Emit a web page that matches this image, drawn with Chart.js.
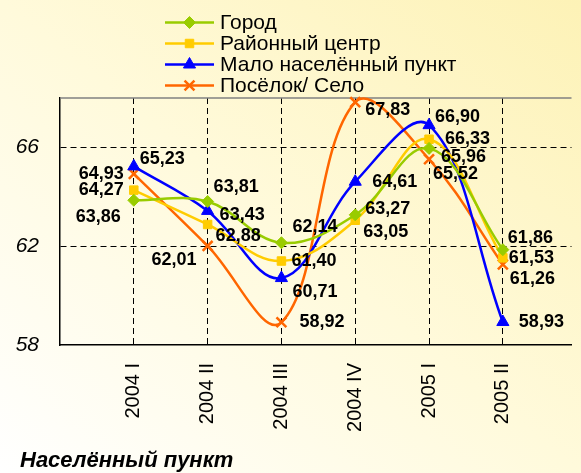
<!DOCTYPE html>
<html><head><meta charset="utf-8">
<script src="https://cdn.jsdelivr.net/npm/chart.js@4"></script>
<style>
html,body{margin:0;padding:0;}
body{width:581px;height:473px;overflow:hidden;background:linear-gradient(to bottom left,#fdf2b6 0%,#fffadb 50%,#ffffff 100%);}
canvas{display:block;}
</style></head><body>
<canvas id="c" width="581" height="473"></canvas>
<script>
// ---- data ----
const categories = ['2004 I','2004 II','2004 III','2004 IV','2005 I','2005 II'];
const gorod = [63.86, 63.81, 62.14, 63.27, 65.96, 61.86];
const raion = [64.27, 62.88, 61.40, 63.05, 66.33, 61.53];
const malo  = [65.23, 63.43, 60.71, 64.61, 66.90, 58.93];
const selo  = [64.93, 62.01, 58.92, 67.83, 65.52, 61.26];
const seriesNames = ['Город', 'Районный центр', 'Мало населённый пункт', 'Посёлок/ Село'];
const yTickValues = [58, 62, 66];
const xAxisTitle = 'Населённый пункт';

// ---- styling (not data) ----
const colors = ['#99cc00', '#ffcc00', '#0000ff', '#ff6600'];
const pointStyles = ['rectRot', 'rect', 'triangle', 'crossRot'];
const pointRadii = [6, 6, 7, 7];
// label offsets [dx, dy, align] per series per point
const labelOffsets = [
  [[-13,17,'right'],[6,-14,'left'],[11,-16,'left'],[10,-6,'left'],[12,9,'left'],[5,-12,'left']],
  [[-10,0,'right'],[8,12,'left'],[10,0,'left'],[8,12,'left'],[16,0,'left'],[6,0,'left']],
  [[6,-7,'left'],[12,4,'left'],[11,14,'left'],[17,0,'left'],[6,-8,'left'],[16,0,'left']],
  [[-10,0,'right'],[-11,14,'right'],[18,0,'left'],[10,8,'left'],[4,15,'left'],[7,15,'left']]
];

const seriesValues = [gorod, raion, malo, selo];
const datasets = seriesValues.map((vals, s) => ({
  label: seriesNames[s],
  data: vals.map((v, i) => ({x: i, y: v})),
  borderColor: colors[s],
  backgroundColor: colors[s],
  borderWidth: 2.5,
  pointStyle: pointStyles[s],
  pointRadius: pointRadii[s],
  pointBorderWidth: s === 3 ? 2.5 : 1,
  pointBorderColor: colors[s],
  pointBackgroundColor: colors[s],
  tension: 0.38,
  clip: false
}));

const fmt = v => v.toFixed(2).replace('.', ',');

const extras = {
  id: 'extras',
  beforeDatasetsDraw(chart) {
    const {ctx, chartArea} = chart;
    ctx.save();
    ctx.strokeStyle = '#808080';
    ctx.lineWidth = 1.5;
    ctx.beginPath();
    ctx.moveTo(chartArea.left, chartArea.top);
    ctx.lineTo(chartArea.right, chartArea.top);
    ctx.stroke();
    ctx.restore();
  },
  afterDatasetsDraw(chart) {
    const {ctx} = chart;
    ctx.save();
    // data labels
    ctx.font = 'bold 18px Arial, "Liberation Sans", sans-serif';
    ctx.fillStyle = '#000';
    ctx.textBaseline = 'middle';
    chart.data.datasets.forEach((ds, s) => {
      const meta = chart.getDatasetMeta(s);
      meta.data.forEach((pt, i) => {
        const [dx, dy, al] = labelOffsets[s][i];
        ctx.textAlign = al;
        ctx.fillText(fmt(seriesValues[s][i]), pt.x + dx, pt.y + dy);
      });
    });
    // legend
    const rowY = [22.5, 43.5, 64.5, 85.5];
    ctx.font = '21px Arial, "Liberation Sans", sans-serif';
    ctx.textAlign = 'left';
    seriesNames.forEach((name, s) => {
      const y = rowY[s];
      ctx.strokeStyle = colors[s];
      ctx.lineWidth = 2.5;
      ctx.beginPath();
      ctx.moveTo(165, y);
      ctx.lineTo(214, y);
      ctx.stroke();
      ctx.fillStyle = colors[s];
      ctx.strokeStyle = colors[s];
      ctx.lineWidth = s === 3 ? 2.5 : 1;
      Chart.helpers.drawPoint(ctx, {pointStyle: pointStyles[s], radius: pointRadii[s], borderWidth: s === 3 ? 2.5 : 1, rotation: 0}, 189.5, y);
      ctx.fillStyle = '#000';
      ctx.fillText(name, 220, y + 1);
    });
    // axis title
    ctx.font = 'italic bold 22px Arial, "Liberation Sans", sans-serif';
    ctx.fillStyle = '#000';
    ctx.textAlign = 'left';
    ctx.fillText(xAxisTitle, 20, 461);
    ctx.restore();
  }
};

new Chart(document.getElementById('c'), {
  type: 'line',
  data: {datasets},
  options: {
    responsive: false,
    animation: false,
    events: [],
    layout: {padding: {top: 98, left: 0, right: 0, bottom: 0}},
    elements: {line: {capBezierPoints: false}},
    plugins: {legend: {display: false}, tooltip: {enabled: false}, title: {display: false}},
    scales: {
      x: {
        type: 'linear',
        min: -1,
        max: 5.93,
        afterBuildTicks(scale) {
          scale.ticks = categories.map((c, i) => ({value: i}));
        },
        afterFit(scale) { scale.height = 128; },
        ticks: {
          callback: v => categories[v] !== undefined ? categories[v] : '',
          minRotation: 90, maxRotation: 90, autoSkip: false,
          padding: 18,
          color: '#000',
          font: {family: 'Arial, "Liberation Sans", sans-serif', size: 20}
        },
        grid: {color: '#000', lineWidth: 1, drawTicks: false},
        border: {display: true, color: '#000', width: 1.5, dash: [6, 4]}
      },
      y: {
        min: 58,
        max: 68,
        afterBuildTicks(scale) {
          scale.ticks = yTickValues.map(v => ({value: v}));
        },
        afterFit(scale) { scale.width = 60; },
        ticks: {
          padding: 21,
          color: '#000',
          font: {family: 'Arial, "Liberation Sans", sans-serif', size: 21, style: 'italic'}
        },
        grid: {
          color: ctx => (ctx.tick && ctx.tick.value !== 58) ? '#000' : 'rgba(0,0,0,0)',
          lineWidth: 1, drawTicks: false
        },
        border: {display: true, color: '#000', width: 1.5, dash: [6, 4]}
      }
    }
  },
  plugins: [extras]
});
</script>
</body></html>
